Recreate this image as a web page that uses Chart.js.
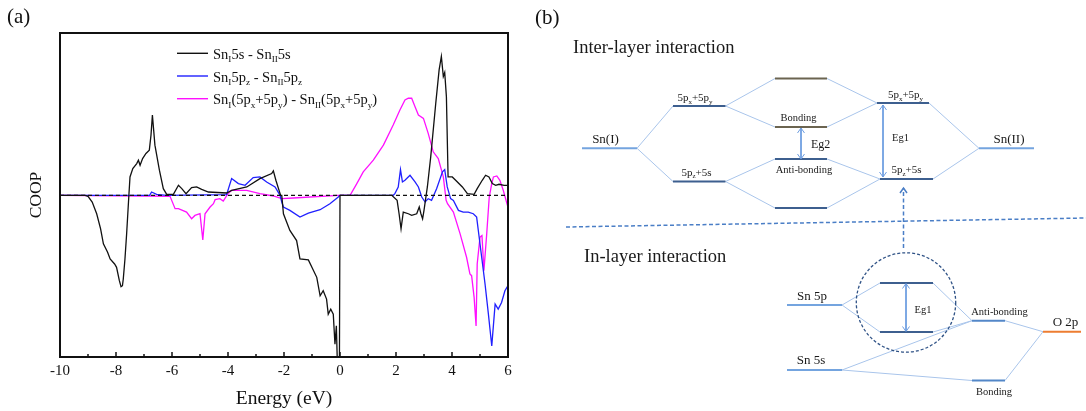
<!DOCTYPE html>
<html><head><meta charset="utf-8">
<script src="https://cdn.jsdelivr.net/npm/chart.js@4.4.1/dist/chart.umd.min.js"></script>
<style>
html,body{margin:0;padding:0;background:#fff;}
#wrap{position:relative;width:1086px;height:411px;overflow:hidden;background:#fff;}
#ca{position:absolute;left:0;top:0;}
#cb{position:absolute;left:540px;top:0;}
.plabel{position:absolute;font-family:"Liberation Serif","Times New Roman",serif;font-size:21px;line-height:1;color:#111;white-space:nowrap;}
</style></head><body>
<div id="wrap">
<canvas id="ca" width="540" height="411"></canvas>
<canvas id="cb" width="546" height="411"></canvas>
<div class="plabel" style="left:7px;top:6px">(a)</div>
<div class="plabel" style="left:535px;top:7px">(b)</div>
</div>
<script>
// ---------------- Panel (a) data: COOP vs Energy (eV) ----------------
const xTickLabels = ['-10','-8','-6','-4','-2','0','2','4','6'];
const legendLabels = [
  'Sn_{I}5s - Sn_{II}5s',
  'Sn_{I}5p_{z} - Sn_{II}5p_{z}',
  'Sn_{I}(5p_{x}+5p_{y}) - Sn_{II}(5p_{x}+5p_{y})'
];
const zeroE = [-10, 6];
const zeroC = [0, 0];

const ssE = [-10,-9.1,-9.0,-8.85,-8.69,-8.55,-8.45,-8.3,-8.21,-8.05,-7.98,-7.88,-7.82,-7.77,-7.74,-7.68,-7.62,-7.54,-7.5,-7.4,-7.26,-7.2,-7.14,-7.05,-6.93,-6.81,-6.75,-6.7,-6.66,-6.61,-6.45,-6.31,-6.19,-5.95,-5.77,-5.65,-5.5,-5.3,-5.12,-4.94,-4.7,-4.05,-3.87,-3.33,-2.86,-2.44,-2.38,-2.29,-2.12,-2.08,-2.02,-1.79,-1.55,-1.43,-1.13,-0.83,-0.71,-0.6,-0.48,-0.42,-0.33,-0.24,-0.18,-0.13,-0.1,-0.02,0.0,1.85,2.04,2.11,2.18,2.26,2.44,2.56,2.74,2.83,2.89,2.95,3.0,3.12,3.24,3.42,3.54,3.62,3.69,3.74,3.8,3.86,4.01,4.13,4.37,4.55,4.79,4.9,5.08,5.2,5.32,5.44,5.56,5.68,5.86,6.0];
const ssC = [0,0,-0.03,-0.2,-0.55,-1.0,-1.45,-1.7,-1.9,-2.05,-2.15,-2.55,-2.73,-2.7,-2.5,-1.9,-1.15,0,0.55,0.8,0.95,1.05,0.9,1.1,1.25,1.35,1.8,2.4,2.0,1.5,0.75,0.2,0.03,0.03,0.3,0.2,0.05,0.23,0.25,0.18,0.1,0.07,0.15,0.25,0.5,0.65,0.73,0.45,0,0,-0.55,-1.05,-1.35,-1.9,-1.93,-2.45,-3.0,-2.85,-3.1,-3.55,-3.4,-3.55,-4.45,-3.9,-4.83,-4.83,0,0,-0.15,-0.55,-1.0,-0.5,-0.55,-0.6,-0.55,-0.35,-0.55,-0.7,-0.45,0.25,1.15,2.75,3.75,4.15,3.55,3.67,2.95,0.55,0.55,0.45,0.25,0.05,0.03,0.2,0.45,0.6,0.55,0.35,0.3,0.33,0.3,0.3];

const pzE = [-10,-6.8,-6.73,-6.55,-6.2,-4.05,-3.87,-3.63,-3.39,-3.1,-2.86,-2.62,-2.32,-2.14,-2.08,-2.02,-1.79,-1.43,-1.13,-0.71,-0.36,-0.06,0.0,1.9,1.96,2.08,2.16,2.23,2.32,2.5,2.68,2.8,2.92,3.04,3.15,3.27,3.45,3.66,3.74,3.83,3.95,4.05,4.23,4.4,4.58,4.76,4.88,4.94,5.06,5.18,5.3,5.42,5.54,5.65,5.77,5.89,6.0];
const pzC = [0,0,0.1,0.03,0,0.02,0.5,0.35,0.3,0.53,0.55,0.4,0.25,0,-0.2,-0.35,-0.45,-0.65,-0.53,-0.43,-0.25,-0.05,0,0,0.05,0.25,0.77,0.4,0.45,0.6,0.4,0.25,-0.05,-0.2,-0.1,-0.15,0.2,0.7,0.77,0.25,-0.1,-0.15,-0.45,-0.5,-0.5,-0.55,-0.65,-1.05,-1.85,-2.65,-3.55,-4.5,-3.25,-3.4,-3.2,-2.85,-2.7];

const pxyE = [-10,-6.8,-6.07,-5.89,-5.77,-5.48,-5.3,-5.18,-5.0,-4.9,-4.82,-4.64,-4.52,-4.46,-4.29,-4.17,-4.0,-3.87,-3.33,-2.86,-2.38,-2.08,-1.67,-0.06,0.36,0.6,0.83,1.19,1.55,1.9,2.14,2.32,2.44,2.56,2.68,2.8,2.98,3.15,3.33,3.51,3.69,3.79,3.84,4.05,4.29,4.52,4.64,4.7,4.79,4.86,4.9,5.0,5.07,5.14,5.24,5.33,5.42,5.48,5.6,5.71,5.83,5.98,6.0];
const pxyC = [0,-0.02,-0.03,-0.4,-0.4,-0.5,-0.7,-0.6,-0.55,-1.33,-0.55,-0.35,-0.25,-0.13,-0.1,-0.17,0.05,0.15,0.15,0.05,-0.02,-0.1,-0.08,0,0,0.35,0.7,1.05,1.5,2.1,2.55,2.85,2.9,2.9,2.65,2.4,2.3,1.85,1.3,1.1,0.55,-0.15,-0.25,-0.5,-1.15,-1.85,-2.35,-2.4,-3.05,-3.9,-2.05,-1.25,-1.2,-2.25,-1.15,-0.05,0.35,0.55,0.58,0.45,0.15,-0.3,-0.35];

// ---------------- Panel (b) data: schematic energy levels ----------------
// upper diagram levels [x0, x1, level] (diagram units), with a kind per level
const interLevels = [[42,97,148.3],[133,185.5,106],[133,185.5,181.5],[235,287,78.5],[235,287,127],[235,287,159],[235,287,208],[337,389,103],[340,393,179],[439,494,148.3]];
const interKinds  = ['atom','mix','mix','olive','olive','mix','mix','mix','mix','atom'];
const interLinks  = [[0,1],[0,2],[1,3],[1,4],[2,5],[2,6],[3,7],[4,7],[5,8],[6,8],[7,9],[8,9]];
// lower diagram levels
const inLevels = [[247,302,305],[247,302,370],[340,393,283],[340,393,332],[432,465,320.7],[503,541,331.7],[432,465,380.5]];
const inKinds  = ['atom','atom','mix','mix','bond','oxygen','bond'];
const inLinks  = [[0,2],[0,3],[2,4],[3,4],[1,4],[1,6],[4,5],[6,5]];
// gap arrows [x, yTop, yBottom]
const gapArrows = [[261,128,159],[343,105,177],[366,283.5,331.5]];
const dividerLine = [[26,227],[546,218]];
const linkArrow = [363.5,248,188];
const zoomCircle = [366,302.5,49.7];
const diagramLabels = [
  ['Inter-layer interaction',33,52.7,18.5,'left'],
  ['Sn(I)',65.5,143,13,'center'],
  ['5p_{x}+5p_{y}',155,101,11,'center'],
  ['5p_{z}+5s',156.5,175.5,11,'center'],
  ['Bonding',258.5,121,10.5,'center'],
  ['Anti-bonding',264,172.5,10.5,'center'],
  ['Eg2',271,147.5,12,'left'],
  ['5p_{x}+5p_{y}',365.5,98,11,'center'],
  ['5p_{z}+5s',366.5,173,11,'center'],
  ['Eg1',352,140.5,10.5,'left'],
  ['Sn(II)',469,143,13,'center'],
  ['In-layer interaction',44,261.5,18.5,'left'],
  ['Sn 5p',272,299.5,13,'center'],
  ['Sn 5s',271,363.5,13,'center'],
  ['Eg1',374.5,312.5,10.5,'left'],
  ['Anti-bonding',459.5,314.5,10.5,'center'],
  ['O 2p',525.5,325.5,13,'center'],
  ['Bonding',454,395,10.5,'center']
];

// ---------------- helpers ----------------
const SERIF = '"Liberation Serif", "Times New Roman", serif';
function pts(xs, ys){ return xs.map((x,i)=>({x:x, y:ys[i]})); }
function parseRich(s){
  const parts=[]; const re=/_\{([^}]*)\}/g; let last=0, m;
  while((m=re.exec(s))){ if(m.index>last) parts.push({t:s.slice(last,m.index),sub:false}); parts.push({t:m[1],sub:true}); last=re.lastIndex; }
  if(last<s.length) parts.push({t:s.slice(last),sub:false});
  return parts;
}
function drawRich(ctx, s, x, y, size, align, color){
  const parts=parseRich(s); let w=0;
  parts.forEach(p=>{ p.sz = p.sub ? size*0.64 : size; ctx.font = p.sz+'px '+SERIF; p.w = ctx.measureText(p.t).width; w+=p.w; });
  let cx = align==='center' ? x-w/2 : (align==='right' ? x-w : x);
  ctx.fillStyle=color; ctx.textAlign='left'; ctx.textBaseline='alphabetic';
  parts.forEach(p=>{ ctx.font = p.sz+'px '+SERIF; ctx.fillText(p.t, cx, p.sub ? y+size*0.24 : y); cx+=p.w; });
}

// ---------------- Chart (a) ----------------
const seriesColors = ['#111111','#2020ff','#ff10ff'];
const framePlugin = {
  id:'frameLegend',
  afterDatasetsDraw(chart){
    const {ctx, chartArea:a, scales:{x}} = chart;
    ctx.save();
    ctx.strokeStyle='#111'; ctx.lineWidth=2; ctx.setLineDash([]);
    ctx.strokeRect(a.left, a.top, a.right-a.left, a.bottom-a.top);
    ctx.lineWidth=1.5;
    for(let v=-10; v<=6; v++){
      const px = x.getPixelForValue(v); const len = (v%2===0) ? 5 : 3;
      ctx.beginPath(); ctx.moveTo(px, a.bottom); ctx.lineTo(px, a.bottom-len); ctx.stroke();
    }
    legendLabels.forEach((lab,i)=>{
      const yRow = a.top + 20.3 + i*22.7;
      ctx.strokeStyle = seriesColors[i]; ctx.lineWidth=1.4;
      ctx.beginPath(); ctx.moveTo(a.left+117, yRow); ctx.lineTo(a.left+148, yRow); ctx.stroke();
      drawRich(ctx, lab, a.left+153, yRow+5.5, 14.5, 'left', '#111');
    });
    ctx.restore();
  }
};

new Chart(document.getElementById('ca'), {
  type:'scatter',
  data:{datasets:[
    {label:'zero', data:pts(zeroE,zeroC), showLine:true, borderColor:'#111', borderWidth:1.2, borderDash:[4,3], pointRadius:0},
    {label:legendLabels[0], data:pts(ssE,ssC), showLine:true, borderColor:seriesColors[0], borderWidth:1.3, pointRadius:0},
    {label:legendLabels[1], data:pts(pzE,pzC), showLine:true, borderColor:seriesColors[1], borderWidth:1.3, pointRadius:0},
    {label:legendLabels[2], data:pts(pxyE,pxyC), showLine:true, borderColor:seriesColors[2], borderWidth:1.3, pointRadius:0}
  ]},
  options:{
    responsive:false, animation:false, devicePixelRatio:1, events:[],
    layout:{padding:{top:33,right:32,left:0,bottom:0}},
    plugins:{legend:{display:false}, tooltip:{enabled:false}},
    scales:{
      x:{type:'linear', min:-10, max:6, afterFit(s){ s.height=54; },
         grid:{display:false, drawTicks:false}, border:{display:false},
         ticks:{stepSize:2, color:'#111', padding:5, font:{family:SERIF, size:15},
                callback:(v)=>{ const i=xTickLabels.indexOf(String(v)); return i>=0 ? xTickLabels[i] : ''; }},
         title:{display:true, text:'Energy (eV)', color:'#111', font:{family:SERIF, size:19.5}, padding:{top:0,bottom:0}}},
      y:{type:'linear', min:-4.83, max:4.85, afterFit(s){ s.width=60; },
         grid:{display:false, drawTicks:false}, border:{display:false}, ticks:{display:false},
         title:{display:true, text:'COOP', color:'#111', font:{family:SERIF, size:17.5}, padding:{top:26,bottom:0}}}
    }
  },
  plugins:[framePlugin]
});

// ---------------- Chart (b) ----------------
const kindColor = {atom:'#74a4df', mix:'#3d5f8f', olive:'#6b6450', bond:'#5387c8', oxygen:'#ed7d31'};
const linkColor = '#a9c5eb';
const dashColor = '#4a7ec6';
const bDatasets = [];
function addLevels(levels, kinds, links){
  links.forEach(([a,b])=>{
    bDatasets.push({data:[{x:levels[a][1],y:levels[a][2]},{x:levels[b][0],y:levels[b][2]}], showLine:true, borderColor:linkColor, borderWidth:1, pointRadius:0, order:3});
  });
  levels.forEach((lv,i)=>{
    bDatasets.push({data:[{x:lv[0],y:lv[2]},{x:lv[1],y:lv[2]}], showLine:true, borderColor:kindColor[kinds[i]], borderWidth:2, pointRadius:0, order:1});
  });
}
addLevels(interLevels, interKinds, interLinks);
addLevels(inLevels, inKinds, inLinks);
gapArrows.forEach(g=>{
  bDatasets.push({data:[{x:g[0],y:g[1]},{x:g[0],y:g[2]}], showLine:true, borderColor:'#6d9de0', borderWidth:1, pointRadius:0, order:2});
});
bDatasets.push({data:dividerLine.map(p=>({x:p[0],y:p[1]})), showLine:true, borderColor:dashColor, borderWidth:1.5, borderDash:[4,2.5], pointRadius:0, order:2});
bDatasets.push({data:[{x:linkArrow[0],y:linkArrow[1]},{x:linkArrow[0],y:linkArrow[2]}], showLine:true, borderColor:dashColor, borderWidth:1.5, borderDash:[4,2.5], pointRadius:0, order:2});

const diagramPlugin = {
  id:'diagram',
  afterDatasetsDraw(chart){
    const {ctx, scales:{x,y}} = chart;
    const X=v=>x.getPixelForValue(v), Y=v=>y.getPixelForValue(v);
    ctx.save();
    // circle
    ctx.strokeStyle='#2f5286'; ctx.lineWidth=1.3; ctx.setLineDash([3,2]);
    const cx=X(zoomCircle[0]), cy=Y(zoomCircle[1]), r=X(zoomCircle[0]+zoomCircle[2])-cx;
    ctx.beginPath(); ctx.arc(cx,cy,r,0,Math.PI*2); ctx.stroke();
    ctx.setLineDash([]);
    // arrow heads
    function head(px,py,dir,color,lw){
      ctx.strokeStyle=color; ctx.lineWidth=lw;
      ctx.beginPath(); ctx.moveTo(px-3.5,py+dir*5); ctx.lineTo(px,py); ctx.lineTo(px+3.5,py+dir*5); ctx.stroke();
    }
    gapArrows.forEach(g=>{ head(X(g[0]),Y(g[1]),1,'#6d9de0',1); head(X(g[0]),Y(g[2]),-1,'#6d9de0',1); });
    head(X(linkArrow[0]),Y(linkArrow[2]),1,dashColor,1.5);
    // labels
    diagramLabels.forEach(l=>drawRich(ctx,l[0],X(l[1]),Y(l[2]),l[3],l[4],'#1a1a1a'));
    ctx.restore();
  }
};

new Chart(document.getElementById('cb'), {
  type:'scatter',
  data:{datasets:bDatasets},
  options:{
    responsive:false, animation:false, devicePixelRatio:1, events:[],
    layout:{padding:0},
    plugins:{legend:{display:false}, tooltip:{enabled:false}},
    scales:{
      x:{type:'linear', min:0, max:546, display:false},
      y:{type:'linear', min:0, max:411, reverse:true, display:false}
    }
  },
  plugins:[diagramPlugin]
});
</script>
</body></html>
